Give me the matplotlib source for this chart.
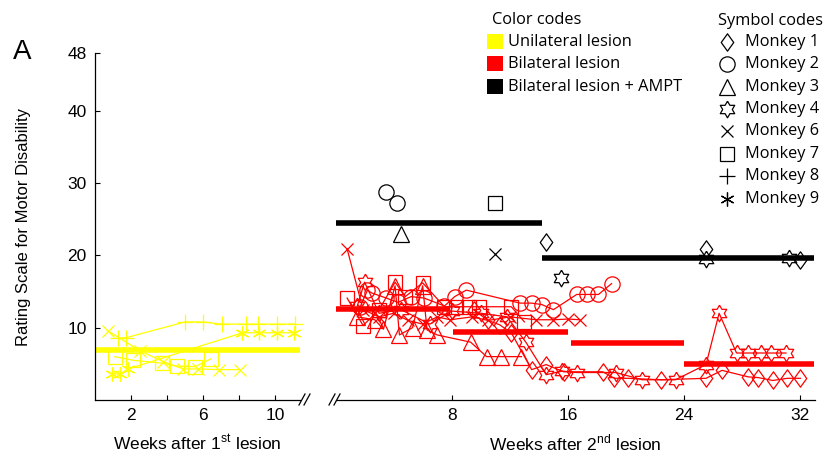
import numpy as np
import matplotlib
matplotlib.use('Agg')
import matplotlib.pyplot as plt
from matplotlib.path import Path
from matplotlib.patches import Rectangle

plt.rcParams['font.family'] = 'Liberation Sans'
plt.rcParams['mathtext.fontset'] = 'custom'
plt.rcParams['mathtext.rm'] = 'Liberation Sans'

YELLOW = '#ffff00'
RED = '#ff0000'

# ---- data: weeks after 1st lesion (unilateral, yellow) ----
uni_m6_x = [0.7, 2.5, 3.8, 4.9, 5.7, 6.9, 8.05]
uni_m6_y = [9.6, 6.8, 5.3, 4.3, 4.3, 4.2, 4.2]
uni_m7_x = [1.1, 2.1, 3.7, 4.55, 5.55, 6.45]
uni_m7_y = [6.0, 5.5, 5.1, 4.7, 4.6, 5.7]
uni_m8_x = [1.3, 1.7, 5.0, 6.0, 7.05, 8.4, 9.05, 10.1, 11.1]
uni_m8_y = [8.6, 8.6, 10.8, 10.8, 10.5, 10.5, 10.5, 10.5, 10.5]
uni_m9_x = [0.95, 1.4, 1.85, 8.2, 9.1, 10.1, 11.05]
uni_m9_y = [3.6, 3.6, 4.3, 9.3, 9.3, 9.3, 9.3]
uni_mean_x = [0, 11.4]
uni_mean_y = 6.9

# ---- data: weeks after 2nd lesion (bilateral, red) ----
bi_m1_x = [9.5, 10.5, 11.3, 12.1, 13.5, 14.5, 15.7, 18.4, 19.2, 20.1, 22.4, 25.5, 26.6, 28.4, 29.1, 30.1, 31.1, 32.0]
bi_m1_y = [12.5, 11.0, 10.4, 9.3, 4.2, 4.9, 3.9, 3.9, 3.0, 3.0, 2.8, 3.0, 4.1, 3.2, 3.1, 2.7, 3.0, 3.0]
bi_m2_x = [1.7, 2.2, 2.5, 3.5, 4.3, 5.2, 6.1, 7.5, 8.2, 9.0, 12.7, 13.5, 14.2, 15.0, 16.6, 17.3, 18.1, 19.0]
bi_m2_y = [12.9, 15.2, 14.8, 14.1, 13.5, 14.3, 14.1, 13.0, 14.3, 15.2, 13.4, 13.4, 13.2, 12.5, 14.6, 14.6, 14.6, 16.1]
bi_m3_x = [1.5, 2.7, 3.3, 4.1, 4.4, 5.3, 6.0, 6.3, 7.0, 9.3, 10.4, 11.4, 12.8]
bi_m3_y = [11.5, 11.1, 9.8, 15.8, 9.0, 10.0, 15.8, 9.7, 9.0, 8.0, 6.0, 6.0, 6.0]
bi_m4_x = [1.5, 2.0, 3.0, 4.5, 6.5, 8.0, 10.0, 11.8, 13.1, 14.5, 15.6, 16.6, 19.3, 21.1, 23.4,
           25.5, 26.4, 27.6, 28.4, 29.3, 30.0, 31.0]
bi_m4_y = [13.0, 16.3, 12.0, 12.5, 10.5, 12.3, 12.0, 11.5, 8.0, 3.5, 4.0, 3.8, 3.8, 2.8, 2.8,
           4.9, 12.0, 6.5, 6.5, 6.5, 6.5, 6.5]
bi_m6_x = [0.8, 1.9, 3.0, 4.0, 5.0, 6.0, 7.0, 7.9, 9.4, 10.5, 12.0, 13.8, 15.0, 16.0, 16.8]
bi_m6_y = [20.9, 12.5, 11.5, 12.0, 11.0, 10.5, 11.5, 11.1, 11.5, 11.0, 11.5, 11.1, 11.1, 11.2, 11.1]
bi_m7_x = [0.8, 1.9, 3.0, 4.1, 4.8, 6.0, 7.5, 8.3, 9.2, 9.9, 12.1, 13.0]
bi_m7_y = [14.1, 10.3, 12.5, 16.3, 14.3, 16.2, 12.9, 12.9, 12.9, 12.9, 12.9, 10.8]
bi_mean_x = [(0, 7.9), (8.1, 16.0), (16.2, 24.0), (24.0, 32.9)]
bi_mean_y = [12.6, 9.4, 7.9, 5.0]

# ---- data: bilateral lesion + AMPT (black) ----
ampt_x = [3.45, 4.2, 4.5, 11.0, 11.0, 14.5, 15.5, 25.5, 25.5, 31.2, 32.0]
ampt_y = [28.8, 27.2, 23.0, 27.2, 20.2, 21.9, 16.9, 20.9, 19.5, 19.7, 19.3]
ampt_monkey = ['M2', 'M2', 'M3', 'M7', 'M6', 'M1', 'M4', 'M1', 'M4', 'M4', 'M1']
ampt_mean_x = [(0, 14.2), (14.2, 32.9)]
ampt_mean_y = [24.5, 19.7]

# marker shapes
diamond = Path([(0, 1), (0.72, 0), (0, -1), (-0.72, 0), (0, 1)],
               [Path.MOVETO, Path.LINETO, Path.LINETO, Path.LINETO, Path.CLOSEPOLY])
ang = np.deg2rad(90 + 30 * np.arange(12))
rad = np.where(np.arange(12) % 2 == 0, 1.0, 0.577)
hexagram = Path(np.column_stack([rad * np.cos(ang), rad * np.sin(ang)]), closed=False)
hexagram = Path(np.vstack([hexagram.vertices, hexagram.vertices[:1]]))

markers = {'M1': (diamond, 12.5), 'M2': ('o', 11), 'M3': ('^', 11.5), 'M4': (hexagram, 12),
           'M6': ('x', 8), 'M7': ('s', 10.5), 'M8': ('+', 11), 'M9': ((6, 2, 0), 10)}

fig = plt.figure(figsize=(8.3, 4.65), dpi=100)
W, H = 830, 465
bottom, top = 400, 53
ax1 = fig.add_axes([95 / W, 1 - bottom / H, 205 / W, (bottom - top) / H])
ax2 = fig.add_axes([335.5 / W, 1 - bottom / H, 479.5 / W, (bottom - top) / H])


def series(ax, x, y, key, color, lw=0.9):
    m, ms = markers[key]
    ax.plot(x, y, color=color, lw=lw, marker=m, ms=ms, mfc='none', mec=color, mew=0.9,
            clip_on=False)


series(ax1, uni_m6_x, uni_m6_y, 'M6', YELLOW)
series(ax1, uni_m7_x, uni_m7_y, 'M7', YELLOW)
series(ax1, uni_m8_x, uni_m8_y, 'M8', YELLOW)
series(ax1, uni_m9_x, uni_m9_y, 'M9', YELLOW)
ax1.plot(uni_mean_x, [uni_mean_y] * 2, color=YELLOW, lw=4, solid_capstyle='butt', clip_on=False)

for x, y, k in [(bi_m1_x, bi_m1_y, 'M1'), (bi_m2_x, bi_m2_y, 'M2'), (bi_m3_x, bi_m3_y, 'M3'),
                (bi_m4_x, bi_m4_y, 'M4'), (bi_m6_x, bi_m6_y, 'M6'), (bi_m7_x, bi_m7_y, 'M7')]:
    series(ax2, x, y, k, RED)
for (x0, x1), y in zip(bi_mean_x, bi_mean_y):
    ax2.plot([x0, x1], [y, y], color=RED, lw=4, solid_capstyle='butt', clip_on=False)

for x, y, k in zip(ampt_x, ampt_y, ampt_monkey):
    m, ms = markers[k]
    ax2.plot([x], [y], ls='none', marker=m, ms=ms, mfc='none', mec='black', mew=0.9)
for (x0, x1), y in zip(ampt_mean_x, ampt_mean_y):
    ax2.plot([x0, x1], [y, y], color='black', lw=4, solid_capstyle='butt', clip_on=False)

# axes styling
for ax in (ax1, ax2):
    ax.set_ylim(0, 48)
    ax.set_facecolor('none')
    for s in ('top', 'right'):
        ax.spines[s].set_visible(False)
    ax.tick_params(direction='in', length=3.5, width=0.8, labelsize=12.5, pad=6)
    ax.spines['bottom'].set_linewidth(0.9)

ax1.set_xlim(0, 11.4)
ax1.set_xticks([2, 4, 6, 8, 10])
ax1.set_xticklabels(['2', '', '6', '', '10'])
ax1.set_yticks([10, 20, 30, 40, 48])
ax1.spines['left'].set_linewidth(0.9)
ax1.set_ylabel('Rating Scale for Motor Disability', fontsize=12, labelpad=26)
ax1.set_xlabel(r'Weeks after 1$^{\mathrm{st}}$ lesion', fontsize=12.5, labelpad=7)

ax2.set_xlim(0, 33)
ax2.set_xticks([8, 16, 24, 32])
ax2.spines['left'].set_visible(False)
ax2.tick_params(axis='y', left=False, labelleft=False)
ax2.set_xlabel(r'Weeks after 2$^{\mathrm{nd}}$ lesion', fontsize=12.5, labelpad=7)

# overlay in pixel coordinates for break marks and legend
ov = fig.add_axes([0, 0, 1, 1], facecolor='none')
ov.set_xlim(0, W)
ov.set_ylim(H, 0)
ov.axis('off')
for xb in (299, 304, 329, 334):
    ov.plot([xb, xb + 6], [405, 394], color='black', lw=0.9)

ov.text(22, 52, 'A', fontsize=20, ha='center', va='center')

legfont = 'Open Sans'
lfs = 11.8
ov.text(492, 20, 'Color codes', fontsize=lfs, family=legfont, va='center')
for yc, col, lab in [(42, YELLOW, 'Unilateral lesion'), (64, RED, 'Bilateral lesion'),
                     (87, 'black', 'Bilateral lesion + AMPT')]:
    ov.add_patch(Rectangle((487, yc - 7.5), 16, 15, color=col, lw=0))
    ov.text(508, yc, lab, fontsize=lfs, family=legfont, va='center')

ov.text(718, 21, 'Symbol codes', fontsize=lfs, family=legfont, va='center')
leg_keys = ['M1', 'M2', 'M3', 'M4', 'M6', 'M7', 'M8', 'M9']
leg_y = [42, 64, 87, 109, 131, 154, 176, 199]
for k, yc in zip(leg_keys, leg_y):
    m, ms = markers[k]
    ov.plot([727], [yc], marker=m, ms=ms, mfc='none', mec='black', mew=0.9, ls='none')
    ov.text(745, yc, 'Monkey ' + k[1:], fontsize=lfs, family=legfont, va='center')

fig.savefig('out.png', dpi=100)
